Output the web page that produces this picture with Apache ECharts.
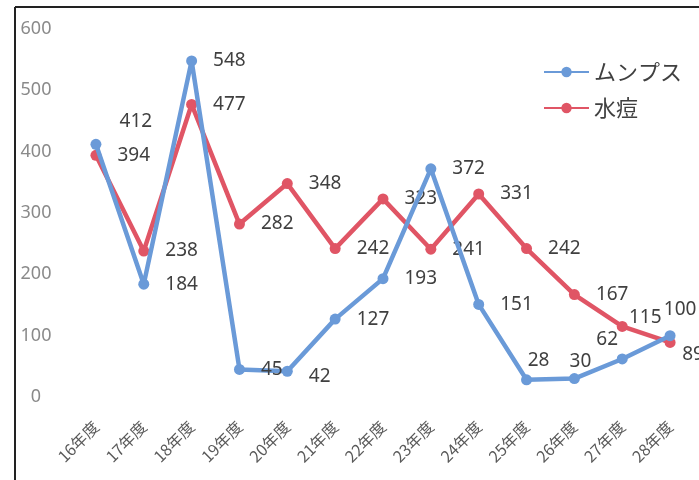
<!DOCTYPE html>
<html><head><meta charset="utf-8">
<script src="https://cdn.jsdelivr.net/npm/echarts@6/dist/echarts.min.js"></script>
<style>html,body{margin:0;padding:0;background:#fff}#c{width:699px;height:480px}</style>
</head><body><div id="c"></div>
<script>
var categories = ['16年度','17年度','18年度','19年度','20年度','21年度','22年度','23年度','24年度','25年度','26年度','27年度','28年度'];
var mumps = [412,184,548,45,42,127,193,372,151,28,30,62,100];
var varicella = [394,238,477,282,348,242,323,241,331,242,167,115,89];
var seriesNames = ['ムンプス','水痘'];
var yTicks = [0,100,200,300,400,500,600];

var font = 'Noto Sans CJK JP';
var numFont = '"Noto Sans", "Noto Sans CJK JP", sans-serif';
var labelStyle = {show:true, position:'right', distance:16, color:'#404040', fontSize:19, fontFamily:numFont};
// label placement tweaks (centre offsets from the point)
var mumpsLabelOverride = {0:{position:'inside', offset:[40,-23]}, 9:{position:'inside', offset:[12,-19]}, 10:{position:'inside',offset:[6,-17]}, 11:{position:'inside', offset:[-15,-19]}, 12:{position:'inside', offset:[10,-26]}, 4:{offset:[0,5]}};
var varLabelOverride = {12:{position:'inside', offset:[23,12]}, 11:{position:'inside', offset:[23,-9]}};

function build(vals, ov){
  return vals.map(function(v,i){
    var d = {value:v};
    if(ov[i]) d.label = ov[i];
    return d;
  });
}
var chart = echarts.init(document.getElementById('c'));
chart.setOption({
  animation:false,
  grid:{left:72, right:5, top:29, bottom:83},
  graphic:[
    {type:'line', shape:{x1:15,y1:7,x2:15,y2:480}, style:{stroke:'#222', lineWidth:2}},
    {type:'line', shape:{x1:15,y1:7,x2:699,y2:7}, style:{stroke:'#222', lineWidth:2}}
  ],
  legend:{orient:'vertical', left:538, top:56, itemWidth:45, itemHeight:13, itemGap:14,
    textStyle:{fontSize:22, color:'#404040', fontFamily:font}, data:seriesNames},
  xAxis:{type:'category', data:categories, boundaryGap:true,
    axisLine:{show:false}, axisTick:{show:false},
    axisLabel:{rotate:45, color:'#595959', fontSize:16, fontFamily:font, margin:27, interval:0}},
  yAxis:{type:'value', min:0, max:600, interval:100,
    axisLine:{show:false}, axisTick:{show:false},
    splitLine:{show:false},
    axisLabel:{color:'#8a8a8a', fontSize:18, fontFamily:numFont, align:'center', margin:36,
      formatter:function(v){return yTicks.indexOf(v)>=0?String(v):'';}}},
  series:[
    {name:seriesNames[0], type:'line', data:build(mumps, mumpsLabelOverride), symbol:'circle', symbolSize:11,
     itemStyle:{color:'#6a9ad8'}, lineStyle:{width:4.5, color:'#6a9ad8'}, label:labelStyle, z:3},
    {name:seriesNames[1], type:'line', data:build(varicella, varLabelOverride), symbol:'circle', symbolSize:11,
     itemStyle:{color:'#e05565'}, lineStyle:{width:4.5, color:'#e05565'}, label:labelStyle, z:2}
  ]
});
</script></body></html>
